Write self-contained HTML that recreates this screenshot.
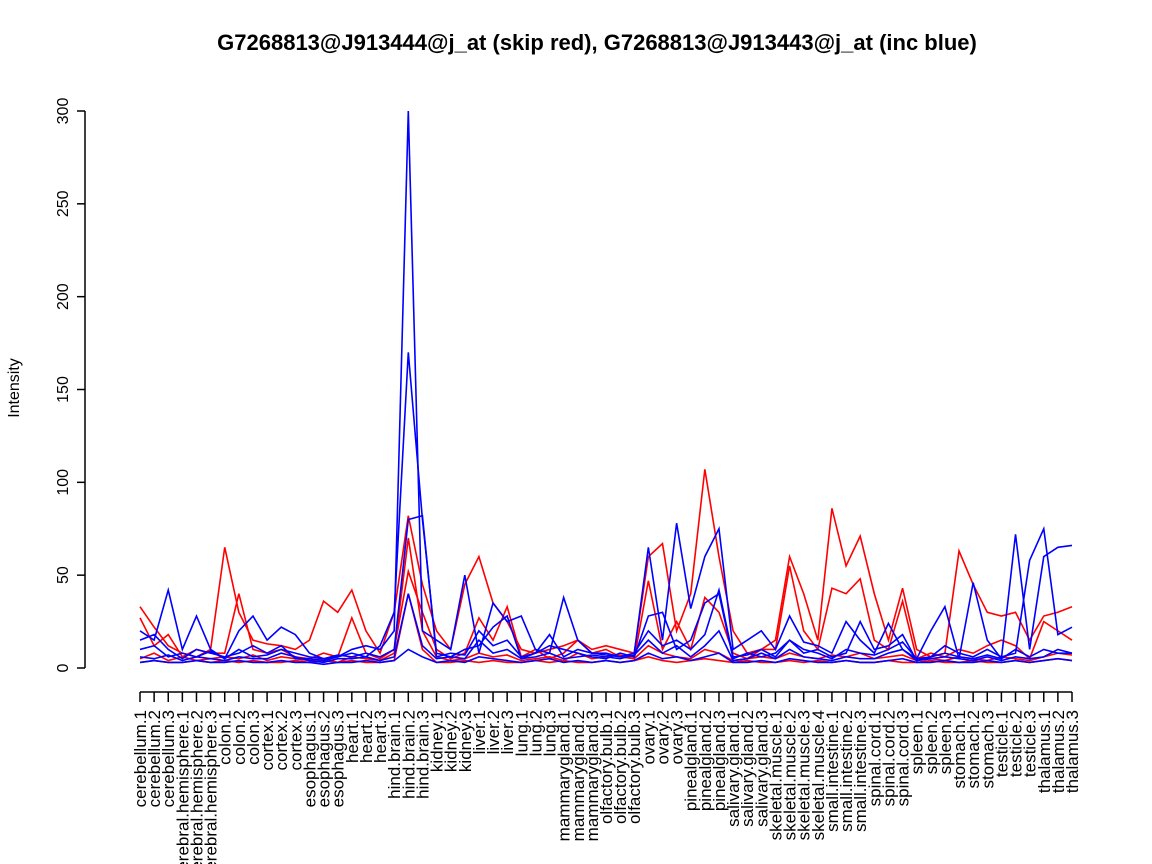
<!DOCTYPE html>
<html><head><meta charset="utf-8"><style>
body{margin:0;background:#fff}
svg{display:block;font-family:"Liberation Sans",sans-serif}
</style></head><body>
<svg id="chart" width="1152" height="864">
<text x="597" y="50" text-anchor="middle" font-size="22" font-weight="bold">G7268813@J913444@j_at (skip red), G7268813@J913443@j_at (inc blue)</text>
<text transform="translate(19,388) rotate(-90)" text-anchor="middle" font-size="16">Intensity</text>
<g id="yaxis"></g>
<g id="xaxis"></g>
<g id="series"></g>
</svg>
<script>
const categories=["cerebellum.1","cerebellum.2","cerebellum.3","cerebral.hemisphere.1","cerebral.hemisphere.2","cerebral.hemisphere.3","colon.1","colon.2","colon.3","cortex.1","cortex.2","cortex.3","esophagus.1","esophagus.2","esophagus.3","heart.1","heart.2","heart.3","hind.brain.1","hind.brain.2","hind.brain.3","kidney.1","kidney.2","kidney.3","liver.1","liver.2","liver.3","lung.1","lung.2","lung.3","mammarygland.1","mammarygland.2","mammarygland.3","olfactory.bulb.1","olfactory.bulb.2","olfactory.bulb.3","ovary.1","ovary.2","ovary.3","pinealgland.1","pinealgland.2","pinealgland.3","salivary.gland.1","salivary.gland.2","salivary.gland.3","skeletal.muscle.1","skeletal.muscle.2","skeletal.muscle.3","skeletal.muscle.4","small.intestine.1","small.intestine.2","small.intestine.3","spinal.cord.1","spinal.cord.2","spinal.cord.3","spleen.1","spleen.2","spleen.3","stomach.1","stomach.2","stomach.3","testicle.1","testicle.2","testicle.3","thalamus.1","thalamus.2","thalamus.3"];
const yTicks=[0,50,100,150,200,250,300];
const red1=[33,22,12,8,6,10,65,30,15,13,12,10,15,36,30,42,20,8,30,82,45,20,10,45,60,35,25,10,8,10,12,15,10,12,10,8,60,67,20,40,107,60,20,8,10,15,60,40,15,86,55,71,40,15,43,10,6,8,63,45,30,28,30,15,28,30,33];
const red2=[27,12,18,6,10,8,8,40,10,8,10,6,5,8,6,27,8,5,10,52,30,10,5,8,27,15,33,6,10,5,8,15,8,10,6,5,47,10,25,10,38,30,8,5,10,10,55,20,10,43,40,48,15,10,36,5,8,6,10,8,12,15,12,5,25,20,15];
const red3=[5,8,4,6,4,5,6,5,7,4,6,5,4,5,3,6,5,4,8,70,20,6,4,5,8,6,7,4,5,6,4,8,5,6,7,5,12,8,6,5,10,8,4,5,6,5,8,6,5,7,6,8,5,6,7,4,5,4,6,5,4,6,5,4,6,8,7];
const red4=[3,4,3,3,4,3,4,3,4,3,3,4,3,4,3,4,3,3,4,40,10,3,3,4,3,4,3,3,4,3,4,3,3,4,3,4,6,4,3,4,5,4,3,4,3,3,4,3,4,3,4,3,3,4,3,3,4,3,3,4,3,3,4,3,4,5,4];
const blue1=[20,15,42,10,28,10,5,20,28,15,22,18,8,5,6,10,12,10,20,300,20,15,10,50,8,35,25,28,10,8,38,15,8,8,6,8,65,15,78,32,60,75,10,15,20,10,28,14,12,8,25,15,8,24,10,5,20,33,5,46,15,5,72,10,60,65,66];
const blue2=[15,18,10,5,10,8,6,8,12,8,12,5,5,4,6,8,6,12,30,170,80,8,6,10,12,22,28,5,8,12,10,8,6,5,8,6,28,30,10,15,35,40,5,8,6,8,15,8,10,6,8,25,10,12,18,4,6,12,8,6,10,6,8,58,75,18,22];
const blue3=[10,12,6,8,6,9,5,10,6,7,10,8,6,5,7,6,8,6,10,80,82,6,8,7,20,12,15,6,8,18,6,10,8,7,6,8,20,12,15,10,18,42,6,7,10,6,15,10,8,5,10,8,7,10,14,5,6,8,6,5,7,5,10,6,10,8,8];
const blue4=[6,5,7,4,6,5,4,6,5,5,8,6,4,3,5,5,6,4,6,40,12,5,6,5,15,8,10,5,6,8,5,6,7,6,5,7,15,8,12,6,12,20,4,5,8,5,10,6,5,4,6,5,5,8,10,4,5,6,5,4,6,4,6,5,6,10,8];
const blue5=[3,4,3,3,4,3,3,4,3,3,4,3,3,2,3,3,4,3,4,10,6,3,4,3,6,5,4,3,4,5,3,4,3,4,3,4,8,5,6,4,6,8,3,3,4,3,5,4,3,3,4,3,3,4,5,3,3,4,3,3,4,3,4,3,4,5,4];
const redSeries=[red1,red2,red3,red4];
const blueSeries=[blue1,blue2,blue3,blue4,blue5];

const NS="http://www.w3.org/2000/svg";
const x0=140,x1=1072,yb=668,yt=111,ymax=300;
function xs(i){return x0+i*(x1-x0)/(categories.length-1);}
function ys(v){return yb-v*(yb-yt)/ymax;}
function mk(t,a){const e=document.createElementNS(NS,t);for(const k in a)e.setAttribute(k,a[k]);return e;}
const ya=document.getElementById('yaxis');
const yl=mk('line',{x1:85,x2:85,y1:ys(0),y2:ys(300),stroke:'#000','stroke-width':1.5});


ya.appendChild(yl);
yTicks.forEach(v=>{
 const t=mk('line',{x1:77,x2:85,y1:ys(v),y2:ys(v),stroke:'#000','stroke-width':1.5});
 
 
 ya.appendChild(t);
 const l=mk('text',{transform:`translate(68,${ys(v)}) rotate(-90)`,'text-anchor':'middle','font-size':16});
 
 
 l.textContent=v;ya.appendChild(l);
});
const xa=document.getElementById('xaxis');
const xl=mk('line',{x1:x0,x2:x1,y1:692,y2:692,stroke:'#000','stroke-width':1.5});


xa.appendChild(xl);
categories.forEach((c,i)=>{
 const t=mk('line',{x1:xs(i),x2:xs(i),y1:692,y2:702,stroke:'#000','stroke-width':1.5});
 
 
 xa.appendChild(t);
 const l=mk('text',{transform:`translate(${xs(i)+6},710) rotate(-90)`,'text-anchor':'end','font-size':17});
 
 
 l.textContent=c;xa.appendChild(l);
});
const sg=document.getElementById('series');
function draw(arr,color,name){
 const p=mk('polyline',{points:arr.map((v,i)=>xs(i)+','+ys(v)).join(' '),fill:'none',stroke:color,'stroke-width':1.6});
 
 
 sg.appendChild(p);
}
redSeries.forEach((s,k)=>draw(s,'#ff0000','red-series-'+(k+1)));
blueSeries.forEach((s,k)=>draw(s,'#0000ff','blue-series-'+(k+1)));
</script>
</body></html>
